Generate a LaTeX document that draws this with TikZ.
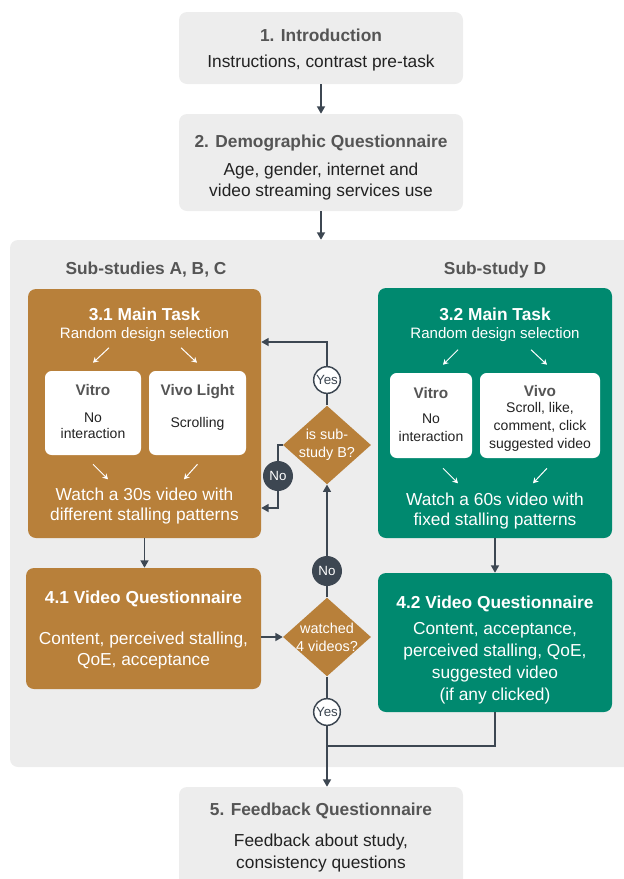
\documentclass[tikz,border=0pt]{standalone}
\usepackage{fontspec}
\setmainfont{Liberation Sans}
\usepackage{xcolor}
\usepackage{tikz}
\usetikzlibrary{arrows.meta, positioning, fit, shapes.geometric}

\definecolor{panelgray}{HTML}{EDEDED}
\definecolor{titlegray}{HTML}{555555}
\definecolor{bodyink}{HTML}{222222}
\definecolor{slate}{HTML}{3D4752}
\definecolor{ochre}{HTML}{B8803A}
\definecolor{deepteal}{HTML}{00896F}

\newcommand{\stagehead}[1]{{\bfseries\color{titlegray}#1}}
\newcommand{\pickhead}[1]{{\fontsize{11.5}{13.8}\selectfont\bfseries\color{titlegray}#1}}
\newcommand{\selfont}{\fontsize{11.3}{13.5}\selectfont}

\begin{document}
\begin{tikzpicture}[
  x=0.75pt, y=-0.75pt,
  font=\fontsize{13}{16}\selectfont,
  >={Triangle[length=5.5pt, width=6pt]},
  panel/.style={fill=panelgray, rounded corners=6pt, inner sep=0pt},
  stagebox/.style={fill=panelgray, rounded corners=6pt, inner sep=0pt},
  abcbox/.style={fill=ochre, rounded corners=6pt, inner sep=0pt},
  dbox/.style={fill=deepteal, rounded corners=6pt, inner sep=0pt},
  pickbox/.style={fill=white, rounded corners=5pt, inner sep=0pt},
  boxtext/.style={align=center, inner sep=0pt, anchor=north, text=bodyink},
  tasktext/.style={boxtext, text=white},
  picktext/.style={boxtext, font=\fontsize{10.5}{12.6}\selectfont},
  heading/.style={font=\fontsize{13}{16}\selectfont\bfseries, text=titlegray,
    inner sep=0pt, anchor=base},
  decision/.style={diamond, fill=ochre, inner sep=0pt,
    minimum width=66pt, minimum height=59pt},
  asktext/.style={align=center, inner sep=0pt, text=white,
    font=\fontsize{10.8}{13.5}\selectfont},
  yesdot/.style={circle, draw=slate, line width=1.1pt, fill=white, text=slate,
    inner sep=0pt, minimum size=20pt, font=\fontsize{10}{12}\selectfont},
  nodot/.style={circle, fill=slate, text=white, inner sep=0pt,
    minimum size=22.5pt, font=\fontsize{10}{12}\selectfont},
  arr/.style={->, draw=slate, line width=1.1pt},
  link/.style={draw=slate, line width=1.1pt},
  subarr/.style={-{Stealth[length=4pt, width=4.5pt]}, draw=white, line width=0.75pt}
]
  \useasboundingbox (0,0) rectangle (624,879);

  % intro and demographics
  \node[stagebox, fit={(179,12) (463,84)}] (intro) {};
  \node[boxtext] (introtxt) at (321,28.7) {\stagehead{1. Introduction}\\[3.5pt]
    Instructions, contrast pre-task};
  \node[stagebox, fit={(179,114) (463,211)}] (demo) {};
  \node[boxtext] (demotxt) at (321,134.5) {\stagehead{2. Demographic Questionnaire}\\[5pt]
    Age, gender, internet and\\video streaming services use};

  \draw[arr] (intro) -- (demo);

  % the sub-studies
  \node[panel, fit={(10,240) (640,767)}] (studies) {};
  \draw[arr] (demo) -- (demo.south |- studies.north);
  \node[heading] (abchead) at (146,274.3) {Sub-studies A, B, C};
  \node[heading] (dhead) at (495,274.3) {Sub-study D};

  \node[abcbox, fit={(28,289) (261,538)}] (mainA) {};
  \node[tasktext] (mainAtxt) at (144.5,307.7) {\textbf{3.1 Main Task}\\[-2.7pt]
    {\selfont Random design selection}};
  \node[pickbox, fit={(45,371) (141,455)}] (vitroA) {};
  \node[pickbox, fit={(149,371) (246,455)}] (vivoA) {};
  \node[picktext] (vitroAtxt) at (93,384.5) {\pickhead{Vitro}\\[7.3pt]No\\[-0.6pt]interaction};
  \node[picktext] (vivoAtxt) at (197.5,384.5) {\pickhead{Vivo Light}\\[11.4pt]Scrolling};
  \node[tasktext] (watchA) at (144.5,487.7) {Watch a 30s video with\\[-1pt]
    different stalling patterns};

  \draw[subarr] ([shift={(16,-23)}]vitroA.north) -- ([shift={(0,-8)}]vitroA.north);
  \draw[subarr] ([shift={(-16.5,-23)}]vivoA.north) -- ([shift={(-0.5,-8)}]vivoA.north);
  \draw[subarr] ([shift={(0,9)}]vitroA.south) -- ([shift={(15,24)}]vitroA.south);
  \draw[subarr] ([shift={(0,9)}]vivoA.south) -- ([shift={(-13.5,24)}]vivoA.south);

  \node[dbox, fit={(378,288) (612,538)}] (mainD) {};
  \node[tasktext] (mainDtxt) at (495,307.7) {\textbf{3.2 Main Task}\\[-2.7pt]
    {\selfont Random design selection}};
  \node[pickbox, fit={(390,373) (472,458)}] (vitroD) {};
  \node[pickbox, fit={(480,373) (600,458)}] (vivoD) {};
  \node[picktext] (vitroDtxt) at (431,387) {\pickhead{Vitro}\\[6pt]No\\[0.9pt]interaction};
  \node[picktext] (vivoDtxt) at (540,385.5) {\pickhead{Vivo}\\[-1pt]Scroll, like,\\[0.9pt]
    comment, click\\[0.9pt]suggested video};
  \node[tasktext] (watchD) at (495,492.7) {Watch a 60s video with\\[-1pt]
    fixed stalling patterns};

  \draw[subarr] ([shift={(27,-23)}]vitroD.north) -- ([shift={(12,-8)}]vitroD.north);
  \draw[subarr] ([shift={(-9,-23)}]vivoD.north) -- ([shift={(7,-8)}]vivoD.north);
  \draw[subarr] ([shift={(12,10)}]vitroD.south) -- ([shift={(27,25)}]vitroD.south);
  \draw[subarr] ([shift={(7,10)}]vivoD.south) -- ([shift={(-7,25)}]vivoD.south);

  \node[abcbox, fit={(26,568) (261,689)}] (vqA) {};
  \node[tasktext] (vqAtxt) at (143.5,590.7) {\textbf{4.1 Video Questionnaire}\\[14.75pt]
    Content, perceived stalling,\\QoE, acceptance};
  \node[dbox, fit={(378,573) (612,712)}] (vqD) {};
  \node[tasktext] (vqDtxt) at (495,595.7) {\textbf{4.2 Video Questionnaire}\\[3.5pt]
    Content, acceptance,\\[0.5pt]perceived stalling, QoE,\\[0.5pt]
    suggested video\\[0.5pt](if any clicked)};

  % decisions
  \node[decision] (isB) at (327,445) {};
  \node[asktext] (isBtxt) at (isB) {is sub-\\study B?};
  \node[decision] (watched) at (327,637) {};
  \node[asktext] (watchedtxt) at (watched) {watched\\4 videos?};

  \node[yesdot] (yesB) at (327,380) {Yes};
  \node[nodot] (noB) at (278,476) {No};
  \node[nodot] (noW) at (327,571) {No};
  \node[yesdot] (yesW) at (327,712) {Yes};

  \coordinate (backYes) at (327,342);
  \coordinate (backNo) at (278,508);
  \coordinate (merge) at (327,746);

  % feedback
  \node[stagebox, fit={(179,787) (463,895)}] (feedback) {};
  \node[boxtext] (feedbacktxt) at (321,802.7) {\stagehead{5. Feedback Questionnaire}\\[7.25pt]
    Feedback about study,\\[0.5pt]consistency questions};

  \draw[arr] (mainA.south) -- (mainA.south |- vqA.north);
  \draw[arr] (mainD.south) -- (mainD.south |- vqD.north);
  \draw[arr] (vqA.east |- watched) -- (watched.west);
  \draw[link] (watched) -- (noW);
  \draw[arr] (noW) -- (isB.south);
  \draw[link] (isB) -- (yesB);
  \draw[arr] (yesB) -- (backYes) -- (mainA.east |- backYes);
  \draw[link] (isB.west) -| (noB);
  \draw[arr] (noB) -- (backNo) -- (mainA.east |- backNo);
  \draw[link] (watched) -- (yesW);
  \draw[arr] (yesW) -- (yesW |- feedback.north);
  \draw[link] (vqD.south) |- (merge);
\end{tikzpicture}
\end{document}
